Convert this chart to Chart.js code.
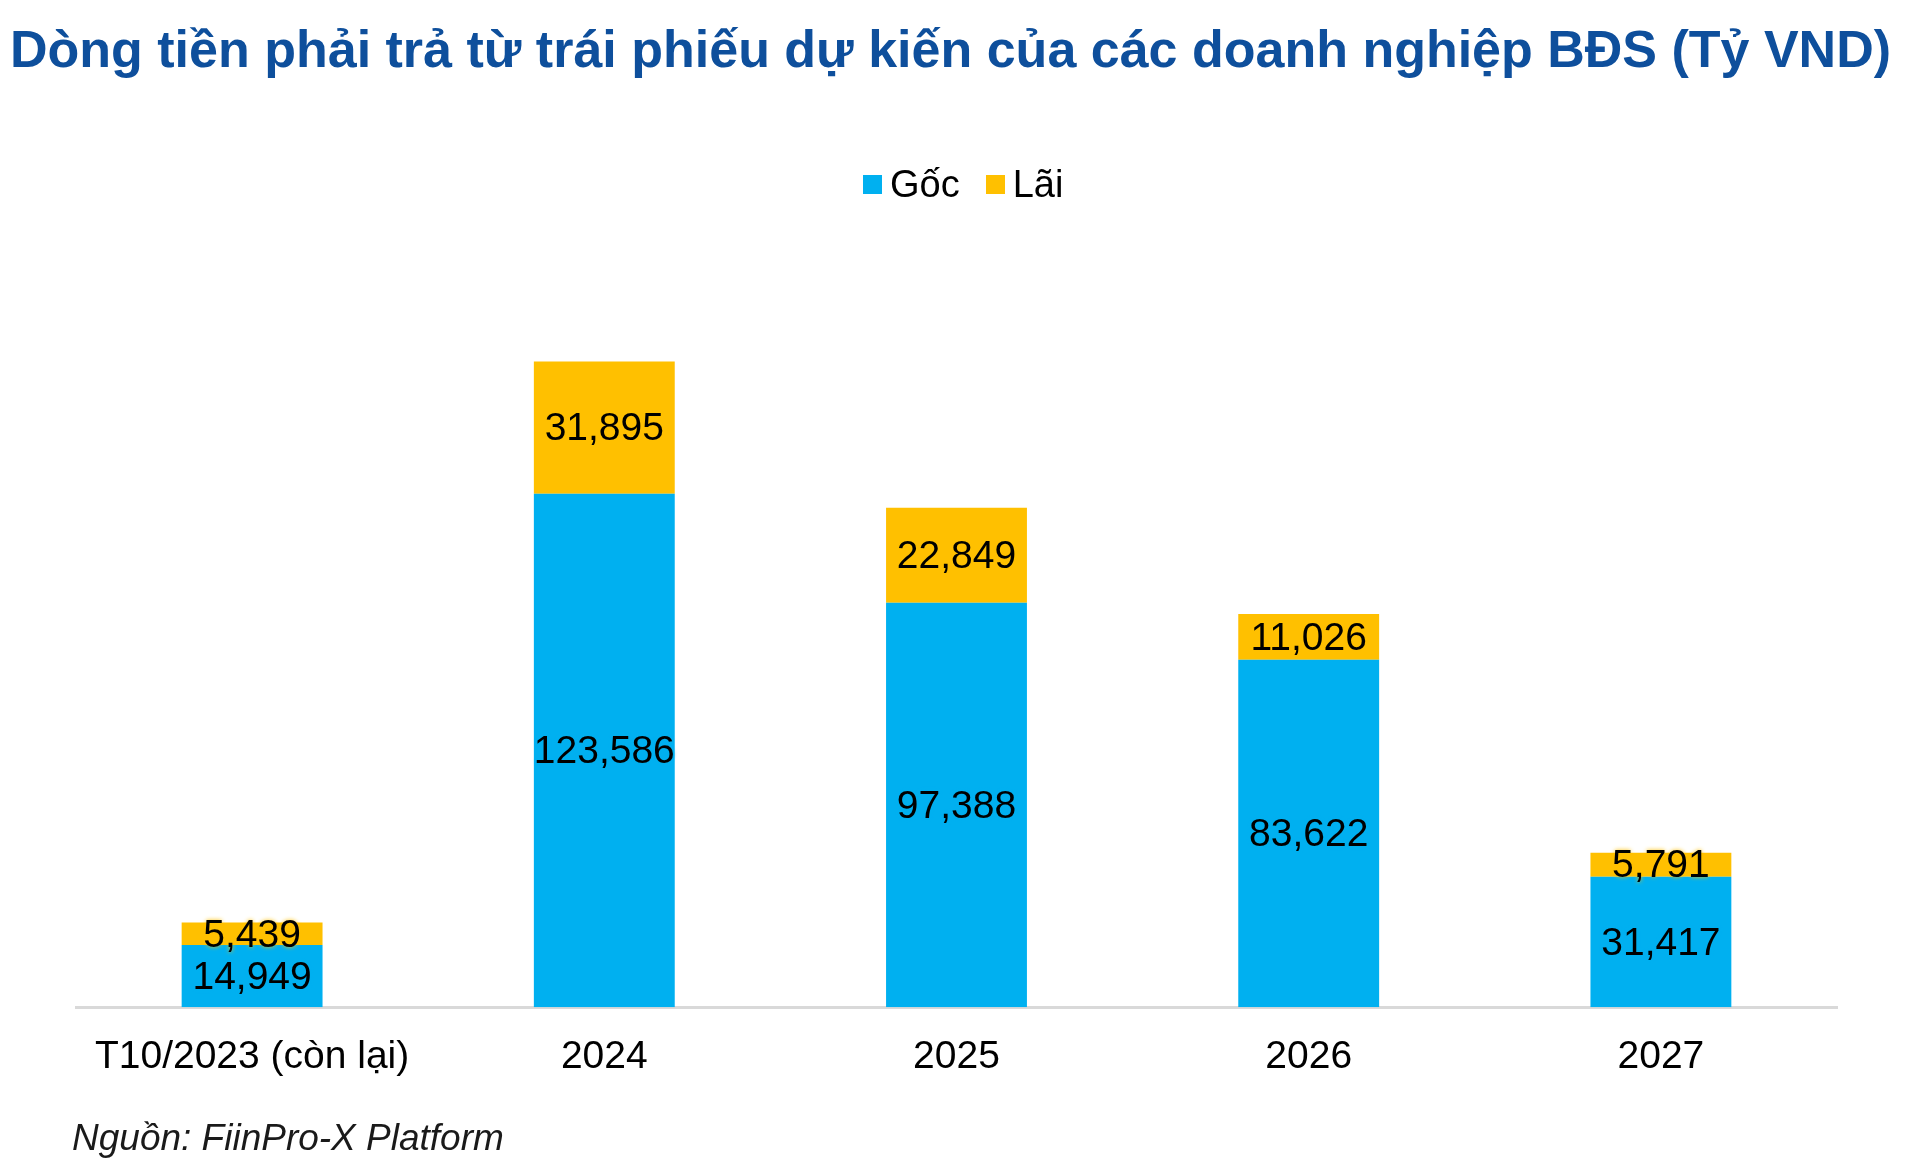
<!DOCTYPE html>
<html>
<head>
<meta charset="utf-8">
<script src="https://cdn.jsdelivr.net/npm/chart.js@4.4.0/dist/chart.umd.min.js"></script>
<style>
  html, body { margin: 0; padding: 0; background: #fff; }
  #wrap { position: relative; width: 1920px; height: 1175px; overflow: hidden; }
  #chartCanvas { position: absolute; left: 0; top: 0; }
  #title {
    position: absolute; left: 10px; top: 19px; white-space: nowrap;
    font-family: "Liberation Sans", Arial, sans-serif; font-weight: bold;
    font-size: 52px; color: #0E4F9C;
  }
  #legend {
    position: absolute; left: 863px; top: 162px; height: 44px;
    display: flex; align-items: center;
    font-family: "Liberation Sans", Arial, sans-serif; font-size: 38px; color: #000;
  }
  #legend .box { width: 19px; height: 19px; margin-right: 8px; }
  #legend .item { display: flex; align-items: center; margin-right: 26px; }
  #source {
    position: absolute; left: 72px; top: 1117px; white-space: nowrap;
    font-family: "Liberation Sans", Arial, sans-serif; font-style: italic;
    font-size: 37px; color: #1a1a1a;
  }
</style>
</head>
<body>
<div id="wrap">
  <canvas id="chartCanvas" width="1920" height="1175"></canvas>
  <div id="title">Dòng tiền phải trả từ trái phiếu dự kiến của các doanh nghiệp BĐS (Tỷ VND)</div>
  <div id="legend"></div>
  <div id="source">Nguồn: FiinPro-X Platform</div>
</div>
<script>
const categories = ["T10/2023 (còn lại)", "2024", "2025", "2026", "2027"];
const gocValues = [14949, 123586, 97388, 83622, 31417];
const laiValues = [5439, 31895, 22849, 11026, 5791];
const seriesNames = ["Gốc", "Lãi"];
const seriesColors = ["#00B0F0", "#FFC000"];

document.addEventListener("DOMContentLoaded", () => {
    const chartCanvas = document.getElementById("chartCanvas");
    const legendDiv = document.getElementById("legend");
    const fontFamily = "'Liberation Sans', Arial, sans-serif";

    // Build the legend as html
    seriesNames.forEach((name, i) => {
        const item = document.createElement("div");
        item.className = "item";
        item.innerHTML = `<div class="box" style="background:${seriesColors[i]}"></div><span>${name}</span>`;
        legendDiv.appendChild(item);
    });

    // Draw value labels in the middle of each segment
    const segmentLabels = {
        id: "segmentLabels",
        afterDatasetsDraw(chart) {
            const ctx = chart.ctx;
            ctx.save();
            ctx.font = "39px " + fontFamily;
            ctx.textAlign = "center";
            ctx.textBaseline = "middle";
            ctx.fillStyle = "#000";
            chart.data.datasets.forEach((ds, i) => {
                const meta = chart.getDatasetMeta(i);
                meta.data.forEach((bar, j) => {
                    const y = (bar.y + bar.base) / 2;
                    const text = ds.data[j].toLocaleString("en-US");
                    ctx.shadowColor = ds.backgroundColor;
                    ctx.shadowBlur = 4;
                    ctx.fillText(text, bar.x, y + 2);
                });
            });
            ctx.restore();
        }
    };

    new Chart(chartCanvas, {
        type: "bar",
        data: {
            labels: categories,
            datasets: [
                { label: seriesNames[0], data: gocValues, backgroundColor: seriesColors[0] },
                { label: seriesNames[1], data: laiValues, backgroundColor: seriesColors[1] }
            ]
        },
        options: {
            responsive: false,
            devicePixelRatio: 1,
            animation: false,
            categoryPercentage: 1,
            barPercentage: 0.4,
            layout: { padding: { left: 76, right: 83, top: 218, bottom: 75 } },
            plugins: {
                tooltip: { enabled: false },
                legend: { display: false }
            },
            scales: {
                x: {
                    stacked: true,
                    grid: { display: false },
                    border: { display: true, color: "#D9D9D9", width: 3 },
                    ticks: { color: "#000", padding: 19, font: { size: 39, family: fontFamily } }
                },
                y: {
                    stacked: true,
                    display: false,
                    min: 0,
                    max: 190000
                }
            }
        },
        plugins: [segmentLabels]
    });
});
</script>
</body>
</html>
